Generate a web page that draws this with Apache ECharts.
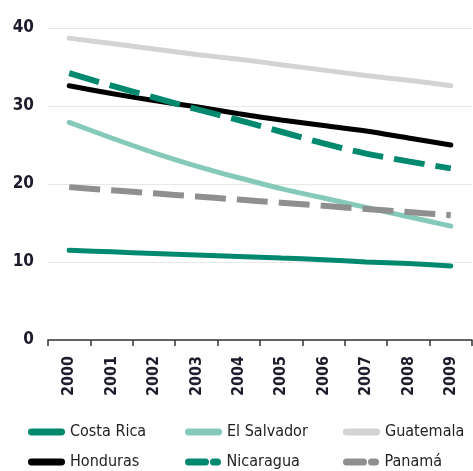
<!DOCTYPE html>
<html>
<head>
<meta charset="utf-8">
<script src="https://cdn.jsdelivr.net/npm/echarts@6/dist/echarts.min.js"></script>
<style>
  html, body { margin: 0; padding: 0; background: #fff; }
  #chart { width: 473px; height: 471px; }
</style>
</head>
<body>
<div id="chart"></div>
<script>
// datos
const years = ['2000', '2001', '2002', '2003', '2004', '2005', '2006', '2007', '2008', '2009'];
const costaRica = [11.5, 11.3, 11.1, 10.9, 10.7, 10.5, 10.3, 10.0, 9.8, 9.5];
const elSalvador = [27.9, 25.9, 24.0, 22.3, 20.8, 19.4, 18.2, 17.0, 15.8, 14.6];
const guatemala = [38.7, 38.0, 37.3, 36.6, 36.0, 35.3, 34.6, 33.9, 33.3, 32.6];
const honduras = [32.6, 31.6, 30.7, 29.9, 29.0, 28.2, 27.5, 26.8, 25.9, 25.0];
const nicaragua = [34.2, 32.6, 31.1, 29.6, 28.2, 26.7, 25.2, 23.9, 22.9, 22.0];
const panama = [19.6, 19.2, 18.8, 18.4, 18.0, 17.6, 17.2, 16.8, 16.4, 16.0];
const yTicks = [0, 10, 20, 30, 40];

const font = "'Liberation Sans Narrow', 'DejaVu Sans Condensed', sans-serif";
const teal = '#00896f';
const lightTeal = '#84c9b9';
const lightGrey = '#d3d3d3';
const grey = '#8f8f8f';

const solidIcon = 'path://M3,0h31a3,3 0 0 1 0,7h-31a3,3 0 0 1 0,-7z';
const dashIcon = 'path://M3,0h17a3,3 0 0 1 0,7h-17a3,3 0 0 1 0,-7z M28,0h4a3,3 0 0 1 0,7h-4a3,3 0 0 1 0,-7z';

function line(name, data, color, dashed) {
  return {
    name: name,
    type: 'line',
    data: data,
    symbol: 'none',
    smooth: 0.3,
    lineStyle: {
      color: color,
      width: dashed ? 6 : 5,
      type: dashed ? [31, 11] : 'solid',
      cap: dashed ? 'butt' : 'round'
    },
    itemStyle: { color: color }
  };
}

// una entrada de leyenda por posición
function legendItem(left, top, name, icon) {
  return {
    left: left,
    top: top,
    itemWidth: 37,
    itemHeight: 7,
    data: [{ name: name, icon: icon }],
    textStyle: { fontFamily: font, fontSize: 16, color: '#222' }
  };
}

const chart = echarts.init(document.getElementById('chart'));
chart.setOption({
  animation: false,
  grid: { left: 48, right: 1, top: 28, bottom: 131 },
  legend: [
    legendItem(23, 419, 'Costa Rica', solidIcon),
    legendItem(180, 419, 'El Salvador', solidIcon),
    legendItem(338, 419, 'Guatemala', solidIcon),
    legendItem(23, 449, 'Honduras', solidIcon),
    legendItem(180, 449, 'Nicaragua', dashIcon),
    legendItem(338, 449, 'Panamá', dashIcon)
  ],
  xAxis: {
    type: 'category',
    data: years,
    boundaryGap: true,
    axisLine: { lineStyle: { color: '#333', width: 1.5 } },
    axisTick: { show: true, length: 6, lineStyle: { color: '#333', width: 1.5 } },
    axisLabel: {
      rotate: 90,
      margin: 16,
      fontFamily: font,
      fontWeight: 'bold',
      fontSize: 16,
      color: '#1c1c2c'
    }
  },
  yAxis: {
    type: 'value',
    min: yTicks[0],
    max: yTicks[yTicks.length - 1],
    interval: 10,
    axisLine: { show: false },
    axisTick: { show: false },
    splitLine: { lineStyle: { color: '#e9e9e9', width: 1 } },
    axisLabel: {
      margin: 14,
      fontFamily: font,
      fontWeight: 'bold',
      fontSize: 17,
      color: '#1c1c2c'
    }
  },
  series: [
    line('Guatemala', guatemala, lightGrey, false),
    line('El Salvador', elSalvador, lightTeal, false),
    line('Panamá', panama, grey, true),
    line('Costa Rica', costaRica, teal, false),
    line('Honduras', honduras, '#000', false),
    line('Nicaragua', nicaragua, teal, true)
  ]
});
</script>
</body>
</html>
